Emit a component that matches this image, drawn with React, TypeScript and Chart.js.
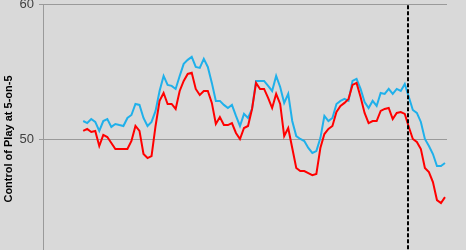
import { useEffect, useRef } from "react";
import { Chart, registerables } from "chart.js";
Chart.register(...registerables);

const blueValues = [
  51.34, 51.19, 51.49, 51.27, 50.6, 51.34, 51.49, 50.9, 51.12, 51.04,
  50.97, 51.57, 51.79, 52.61, 52.54, 51.57, 50.97, 51.27, 52.09, 53.58,
  54.7, 54.03, 53.96, 53.73, 54.7, 55.6, 55.9, 56.12, 55.37, 55.3,
  55.97, 55.37, 54.18, 52.84, 52.84, 52.54, 52.31, 52.54, 51.72, 50.97,
  51.87, 51.57, 52.24, 54.33, 54.33, 54.33, 53.96, 53.58, 54.7, 53.88,
  52.69, 53.36, 51.34, 50.22, 50.0, 49.85, 49.33, 48.96, 49.1, 50.07,
  51.72, 51.34, 51.57, 52.61, 52.84, 52.99, 52.84, 54.33, 54.48, 53.73,
  52.76, 52.31, 52.84, 52.46, 53.43, 53.36, 53.73, 53.36, 53.73, 53.58,
  54.1, 53.13, 52.16, 51.94, 51.27, 50.0, 49.48, 48.88, 47.99, 47.99,
  48.21,
];

const redValues = [
  50.6, 50.75, 50.52, 50.6, 49.48, 50.3, 50.15, 49.7, 49.25, 49.25,
  49.25, 49.25, 49.85, 50.97, 50.6, 48.88, 48.58, 48.73, 50.97, 52.84,
  53.43, 52.61, 52.61, 52.24, 53.58, 54.33, 54.85, 54.93, 53.73, 53.28,
  53.58, 53.58, 52.69, 51.12, 51.64, 51.04, 51.04, 51.19, 50.45, 50.0,
  50.82, 50.97, 52.24, 54.18, 53.73, 53.73, 53.06, 52.31, 53.36, 52.61,
  50.22, 50.82, 49.33, 47.84, 47.61, 47.61, 47.46, 47.31, 47.39, 49.33,
  50.37, 50.75, 50.97, 52.01, 52.46, 52.69, 52.99, 54.03, 54.18, 53.13,
  51.94, 51.19, 51.34, 51.34, 52.09, 52.24, 52.31, 51.49, 51.94, 52.01,
  51.87, 50.9, 50.0, 49.78, 49.25, 47.84, 47.54, 46.79, 45.45, 45.22,
  45.67,
];

const firstGame = 10;
const lastGame = 100.5;
const splitGame = 90.8;
const yTicks = [40, 50, 60];
const yTitle = "Control of Play at 5-on-5";

export default function App() {
  const ref = useRef<HTMLCanvasElement>(null);
  useEffect(() => {
    const chart = new Chart(ref.current!, {
      type: "line",
      data: {
        datasets: [
          {
            data: [
              { x: splitGame, y: yTicks[0] },
              { x: splitGame, y: yTicks[yTicks.length - 1] },
            ],
            borderColor: "#000000",
            borderWidth: 2,
            borderDash: [4, 2],
            pointRadius: 0,
          },
          {
            data: redValues.map((v, i) => ({ x: firstGame + i, y: v })),
            borderColor: "#ff0000",
            borderWidth: 2,
            pointRadius: 0,
            tension: 0,
          },
          {
            data: blueValues.map((v, i) => ({ x: firstGame + i, y: v })),
            borderColor: "#1fb0ea",
            borderWidth: 2,
            pointRadius: 0,
            tension: 0,
          },
        ],
      },
      options: {
        animation: false,
        responsive: false,
        plugins: { legend: { display: false }, tooltip: { enabled: false } },
        layout: { padding: { left: 0, right: 19, top: 0, bottom: 0 } },
        scales: {
          x: { type: "linear", min: 0, max: lastGame, display: false },
          y: {
            min: yTicks[0],
            max: yTicks[yTicks.length - 1],
            afterFit: (s: any) => {
              s.width = 43;
            },
            afterBuildTicks: (s: any) => {
              s.ticks = yTicks.map((v) => ({ value: v }));
            },
            ticks: {
              color: "#404040",
              font: { family: "Liberation Sans", size: 13 },
              padding: 5,
            },
            grid: { color: "#9a9a9a", tickLength: 4, lineWidth: 1 },
            border: { color: "#9a9a9a" },
            title: {
              display: true,
              text: yTitle,
              color: "#000000",
              font: { family: "Liberation Sans", size: 11, weight: "bold" },
              padding: { top: 2, bottom: 0 },
            },
          },
        },
      },
    });
    return () => chart.destroy();
  }, []);
  return (
    <div
      style={{
        position: "fixed",
        inset: 0,
        background: "#d9d9d9",
        overflow: "hidden",
      }}
    >
      <canvas
        ref={ref}
        width={466}
        height={294}
        style={{ position: "absolute", left: 0, top: -8 }}
      />
    </div>
  );
}
